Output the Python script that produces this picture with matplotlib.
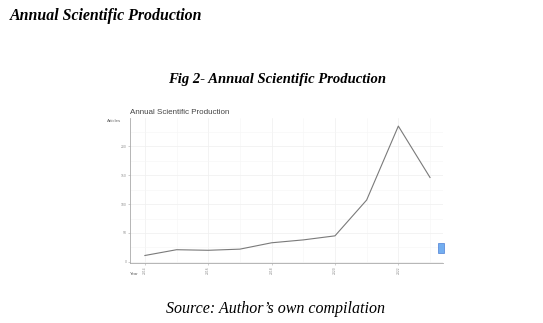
import matplotlib
matplotlib.use("Agg")
import matplotlib.pyplot as plt
from matplotlib.ticker import MultipleLocator
from matplotlib.patches import Rectangle

years = [2014, 2015, 2016, 2017, 2018, 2019, 2020, 2021, 2022, 2023]
articles = [11, 21, 20, 22, 33, 38, 45, 107, 235, 146]
y_ticks = [0, 50, 100, 150, 200]
x_ticks = [2014, 2016, 2018, 2020, 2022]

fig = plt.figure(figsize=(5.43, 3.23), dpi=100)
fig.patch.set_facecolor("white")

serif = "Liberation Serif"
fig.text(10/543, 1-16/323, "Annual Scientific Production", fontfamily=serif,
         fontweight="bold", fontstyle="italic", fontsize=11.4, va="center", ha="left")
fig.text(277/543, 1-80/323, "Fig 2- Annual Scientific Production", fontfamily=serif,
         fontweight="bold", fontstyle="italic", fontsize=10.5, va="center", ha="center")
fig.text(276/543, 1-309/323, "Source: Author\u2019s own compilation", fontfamily=serif,
         fontstyle="italic", fontsize=11.5, va="center", ha="center")

ax = fig.add_axes([130/543, 1-263/323, 313/543, 145/323])
ax.plot(years, articles, color="#7a7a7a", lw=0.8)
ax.set_xlim(2013.53, 2023.41)
ax.set_ylim(-2, 249)
ax.set_xticks(x_ticks)
ax.set_xticklabels([str(x) for x in x_ticks], rotation=90, fontsize=2.2, color="#888888")
ax.set_yticks(y_ticks)
ax.set_yticklabels([str(y) for y in y_ticks], fontsize=2.2, color="#888888")
ax.xaxis.set_minor_locator(MultipleLocator(1))
ax.yaxis.set_minor_locator(MultipleLocator(25))
ax.grid(which="major", color="#efefef", lw=0.5)
ax.grid(which="minor", color="#f6f6f6", lw=0.4)
ax.set_axisbelow(True)
for s in ["top", "right"]:
    ax.spines[s].set_visible(False)
for s in ["left", "bottom"]:
    ax.spines[s].set_color("#aaaaaa")
    ax.spines[s].set_linewidth(0.6)
ax.tick_params(which="major", length=1.5, width=0.4, color="#aaaaaa", pad=1)
ax.tick_params(which="minor", length=0)

fig.text(130/543, 1-113/323, "Annual Scientific Production", fontfamily="Liberation Sans",
         fontsize=5.8, color="#444444", va="center", ha="left")
fig.text(107/543, 1-121/323, "Articles", fontfamily="Liberation Sans",
         fontsize=3.2, color="#666666", va="center", ha="left")
fig.text(130/543, 1-274/323, "Year", fontfamily="Liberation Sans",
         fontsize=3.2, color="#666666", va="center", ha="left")

fig.patches.append(Rectangle((438/543, 1-253/323), 6/543, 10/323,
                             transform=fig.transFigure, facecolor="#5aa0ee",
                             edgecolor="#3a6fd0", lw=0.5, alpha=0.85))

fig.savefig("out.png", dpi=100)
